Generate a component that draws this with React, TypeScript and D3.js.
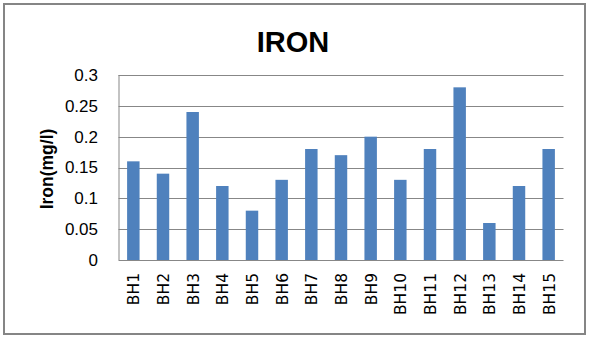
import React from "react";
import * as d3 from "d3";

const categories = ["BH1","BH2","BH3","BH4","BH5","BH6","BH7","BH8","BH9","BH10","BH11","BH12","BH13","BH14","BH15"];
const ironValues = [0.16,0.14,0.24,0.12,0.08,0.13,0.18,0.17,0.2,0.13,0.18,0.28,0.06,0.12,0.18];
const yTicks = [0,0.05,0.1,0.15,0.2,0.25,0.3];
const yTickLabels = ["0","0.05","0.1","0.15","0.2","0.25","0.3"];

export default function App() {
  const W = 590, H = 339;
  const left = 118.5, right = 563.5, top = 75, bottom = 260;
  const x = d3.scaleBand().domain(categories).range([left, right]).paddingInner(0.58).paddingOuter(0.29);
  const y = d3.scaleLinear().domain([0, 0.3]).range([bottom, top]);
  return (
    <svg width={W} height={H} style={{ position: "absolute", left: 0, top: 0 }}>
      <rect x={0} y={0} width={W} height={H} fill="#fff" />
      <rect x={4} y={4} width={581} height={330} fill="none" stroke="#858585" strokeWidth={2} />
      <text x={293} y={52.3} textAnchor="middle" fontFamily="Liberation Sans, Arial, sans-serif" fontWeight="bold" fontSize={29} fill="#000">IRON</text>
      {yTicks.map((t, i) => (
        <g key={i}>
          {t > 0 && <line x1={left} x2={right} y1={Math.round(y(t)) + 0.5} y2={Math.round(y(t)) + 0.5} stroke="#878787" strokeWidth={1} />}
          <text x={98} y={y(t)} dy="0.35em" textAnchor="end" fontFamily="Liberation Sans, Arial, sans-serif" fontSize={17} fill="#000">{yTickLabels[i]}</text>
        </g>
      ))}
      {categories.map((c, i) => (
        <rect key={c} x={x(c)} y={y(ironValues[i])} width={x.bandwidth()} height={bottom - y(ironValues[i])} fill="#4F81BD" />
      ))}
      <line x1={left + 0.5} x2={left + 0.5} y1={top} y2={bottom} stroke="#878787" strokeWidth={1} />
      <line x1={left} x2={right} y1={bottom + 0.5} y2={bottom + 0.5} stroke="#878787" strokeWidth={1} />
      {categories.map((c) => (
        <text key={c} transform={`translate(${(x(c) as number) + x.bandwidth() / 2 + 6},273) rotate(-90)`} textAnchor="end" fontFamily="DejaVu Sans, Verdana, sans-serif" fontSize={15.5} fill="#000">{c}</text>
      ))}
      <text transform={`translate(52.5,169) rotate(-90)`} textAnchor="middle" fontFamily="Liberation Sans, Arial, sans-serif" fontWeight="bold" fontSize={17.5} fill="#000">Iron(mg/l)</text>
    </svg>
  );
}
